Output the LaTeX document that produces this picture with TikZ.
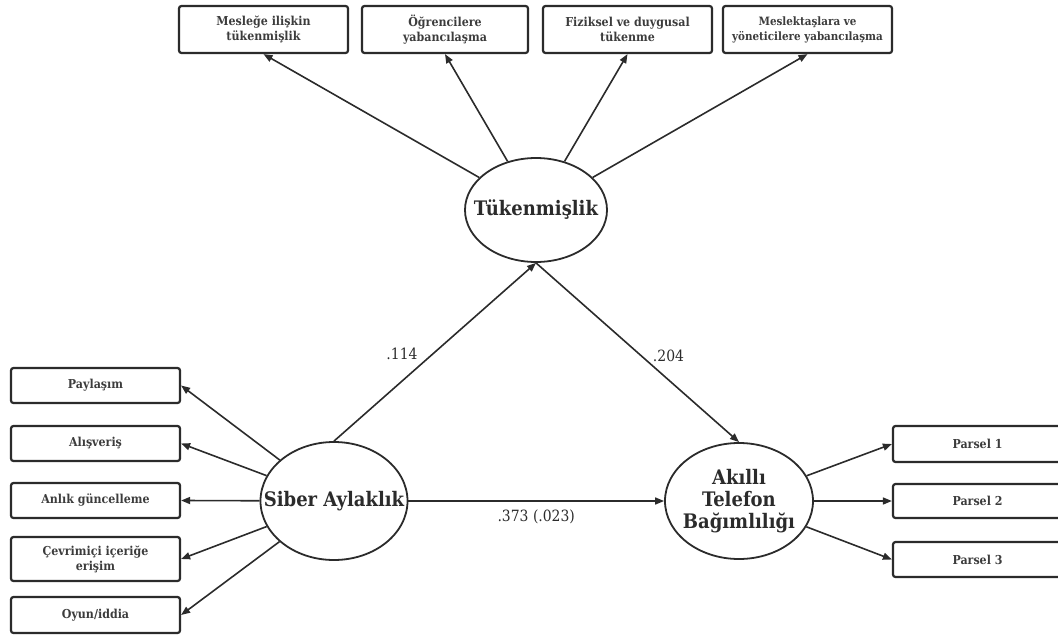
\documentclass[tikz,border=0pt]{standalone}
\usepackage{fontspec}
\setmainfont{DejaVu Serif Condensed}
\usetikzlibrary{arrows.meta,shapes.geometric}
\definecolor{ink}{HTML}{2B2B2B}
\definecolor{txt}{HTML}{3C3C3C}
\tikzset{
  obs/.style={draw=ink, line width=2.2pt, rounded corners=2.5pt, minimum width=169pt, inner sep=1pt, align=center, text=txt, font=\fontsize{12.3}{15}\selectfont\bfseries},
  lat/.style={draw=ink, line width=1.8pt, ellipse, inner sep=0pt},
  lattext/.style={align=center, text=ink, inner sep=0pt, font=\fontsize{20}{22}\selectfont\bfseries},
  arr/.style={draw=ink, line width=1.6pt, -{Triangle[length=9pt,width=7pt]}},
  coef/.style={text=ink, font=\fontsize{15.5}{18}\selectfont}
}
\begin{document}
\begin{tikzpicture}[x=1pt,y=-1pt]
\useasboundingbox (0,0) rectangle (1058,637);
% latent variables
\node[lat, minimum width=142pt, minimum height=104pt, label={[lattext]center:Tükenmişlik}] (T) at (536,210) {};
\node[lat, minimum width=147pt, minimum height=118pt, label={[lattext]center:Siber Aylaklık}] (S) at (334,501) {};
\node[lat, minimum width=148pt, minimum height=116pt, label={[lattext]center:Akıllı\\Telefon\\Bağımlılığı}] (A) at (739,501) {};
% top indicators
\node[obs, minimum height=47pt] (t1) at (263.5,29.5) {Mesleğe ilişkin\\tükenmişlik};
\node[obs, minimum height=47pt, minimum width=166pt] (t2) at (445,29.5) {Öğrenciler\smash{e}\\yabancılaşma};
\node[obs, minimum height=47pt] (t3) at (627.5,29.5) {Fiziksel ve duygusal\\tükenme};
\node[obs, minimum height=47pt, font=\fontsize{11.5}{15}\selectfont\bfseries] (t4) at (807.5,29.5) {Meslektaşlara ve\\yöneticilere yabancılaşma};
% left indicators
\node[obs, minimum height=35pt] (l1) at (95.5,385.5) {Paylaşım};
\node[obs, minimum height=35pt] (l2) at (95.5,443.5) {Alışveriş};
\node[obs, minimum height=35pt] (l3) at (95.5,500.5) {Anlık güncelleme};
\node[obs, minimum height=44pt] (l4) at (95.5,559) {Çevrimiçi içeriğe\\erişim};
\node[obs, minimum height=36pt] (l5) at (95.5,615) {Oyun/iddia};
% right indicators
\node[obs, minimum height=36pt] (r1) at (977.5,444) {Parsel 1};
\node[obs, minimum height=34pt] (r2) at (977.5,501) {Parsel 2};
\node[obs, minimum height=35pt] (r3) at (977.5,559.5) {Parsel 3};
% measurement arrows
\foreach \b in {t1,t2,t3,t4} \draw[arr] (T) -- (\b.south);
\foreach \b in {l1,l2,l3,l4,l5} \draw[arr] (S) -- (\b.east);
\foreach \b in {r1,r2,r3} \draw[arr] (A) -- (\b.west);
% structural paths
\draw[arr] (S.north) -- node[coef, midway, xshift=-33pt, yshift=-2pt] (c1) {.114} (T.south);
\draw[arr] (T.south) -- node[coef, midway, xshift=31pt, yshift=-3pt] (c2) {.204} (A.north);
\draw[arr] (S.east) -- node[coef, midway, yshift=-16pt] (c3) {.373 (.023)} (A.west);
\end{tikzpicture}
\end{document}
